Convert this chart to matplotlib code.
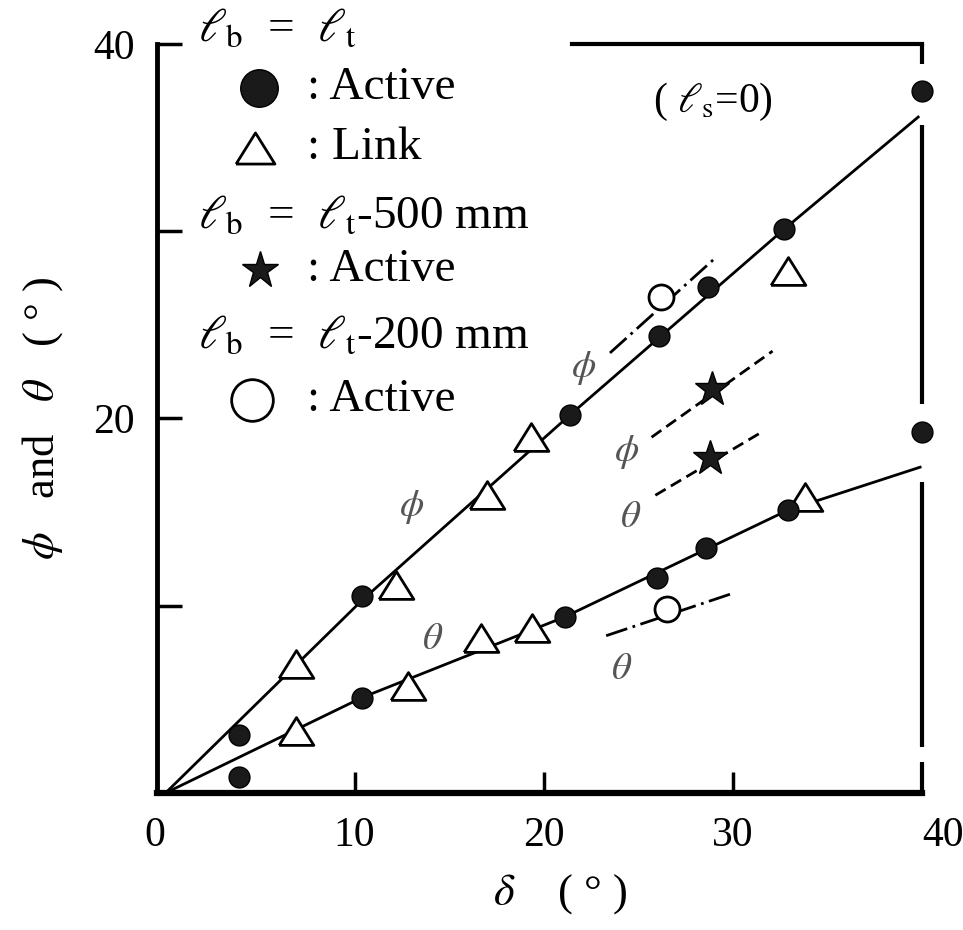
import numpy as np
import matplotlib.pyplot as plt

plt.rcParams['font.family'] = ['Liberation Serif', 'DejaVu Serif']
plt.rcParams['mathtext.fontset'] = 'stix'

# l_b = l_t, active (filled circles), upper = phi, lower = theta
act_phi_x = [3.9, 10.4, 21.4, 26.1, 28.7, 32.7, 40.0]
act_phi_y = [3.1, 10.5, 20.2, 24.4, 27.0, 30.1, 37.5]
act_th_x = [3.9, 10.4, 21.1, 26.0, 28.6, 32.9, 40.0]
act_th_y = [0.85, 5.1, 9.4, 11.5, 13.1, 15.1, 19.3]
# l_b = l_t, link (triangles)
link_phi_x = [6.9, 12.2, 17.0, 19.3, 32.9]
link_phi_y = [6.9, 11.1, 15.9, 19.0, 27.9]
link_th_x = [6.9, 12.8, 16.7, 19.4, 33.8]
link_th_y = [3.3, 5.7, 8.3, 8.8, 15.8]
# l_b = l_t - 500 mm, active (stars)
s500_x = [28.9, 28.8]
s500_y = [21.6, 17.9]
# l_b = l_t - 200 mm, active (open circles)
s200_x = [26.2, 26.5]
s200_y = [26.5, 9.8]

# drawn lines
fit_phi_x = [0, 10.4, 21.4, 32.7, 39.8]
fit_phi_y = [0, 10.3, 20.2, 30.1, 36.1]
fit_th_x = [0, 10.4, 21.1, 32.9, 39.9]
fit_th_y = [0, 5.1, 9.4, 15.1, 17.4]
l500_phi_x, l500_phi_y = [25.7, 32.1], [19.0, 23.6]
l500_th_x, l500_th_y = [25.9, 31.4], [15.9, 19.2]
l200_phi_x, l200_phi_y = [23.5, 29.1], [23.5, 28.6]
l200_th_x, l200_th_y = [23.3, 30.1], [8.4, 10.7]

# curve labels
lab_text = [r'$\phi$', r'$\theta$', r'$\phi$', r'$\phi$', r'$\theta$', r'$\theta$']
lab_x = [13.0, 14.1, 22.1, 24.4, 24.6, 24.1]
lab_y = [15.3, 8.2, 22.7, 18.2, 14.7, 6.6]

tri = [(-1, -0.8), (1, -0.8), (0, 0.8), (-1, -0.8)]

fig = plt.figure(figsize=(9.63, 9.30), dpi=100)
ax = fig.add_axes([157/963, 1-793/930, 765/963, 749/930])
ax.set_xlim(-0.45, 40)
ax.set_ylim(0, 40)

ax.plot(fit_phi_x, fit_phi_y, color='k', lw=2)
ax.plot(fit_th_x, fit_th_y, color='k', lw=2)
ax.plot(l500_phi_x, l500_phi_y, color='k', lw=2, ls=(0, (4.3, 2.2)))
ax.plot(l500_th_x, l500_th_y, color='k', lw=2, ls=(0, (4.3, 2.2)))
ax.plot(l200_phi_x, l200_phi_y, color='k', lw=2, ls=(0, (8, 2, 1, 2)))
ax.plot(l200_th_x, l200_th_y, color='k', lw=2, ls=(0, (8, 2, 1, 2)))

mk = dict(ls='none', clip_on=False, zorder=5)
ax.plot(link_phi_x, link_phi_y, marker=tri, ms=25, mfc='white', mec='k', mew=2, **mk)
ax.plot(link_th_x, link_th_y, marker=tri, ms=25, mfc='white', mec='k', mew=2, **mk)
ax.plot(act_phi_x, act_phi_y, marker='o', ms=15, mfc='#1a1a1a', mec='k', **mk)
ax.plot(act_th_x, act_th_y, marker='o', ms=15, mfc='#1a1a1a', mec='k', **mk)
ax.plot(s500_x, s500_y, marker='*', ms=26, mfc='#1a1a1a', mec='k', **mk)
ax.plot(s200_x, s200_y, marker='o', ms=18, mfc='white', mec='k', mew=2, **mk)

for t, x, y in zip(lab_text, lab_x, lab_y):
    ax.text(x, y, t, fontsize=28, color='#555555', ha='center', va='center')

# legend drawn by hand
fs = 34
tr = ax.transAxes
ax.text(0.054, 1.019, r'$\ell_{\rm b}$  =  $\ell_{\rm t}$', transform=tr, fontsize=fs, va='center')
ax.plot(0.133, 0.941, marker='o', ms=27, mfc='#1a1a1a', mec='k', transform=tr, clip_on=False)
ax.text(0.196, 0.941, ': Active', transform=tr, fontsize=fs, va='center')
ax.plot(0.128, 0.861, marker=tri, ms=28, mfc='white', mec='k', mew=2, transform=tr, clip_on=False)
ax.text(0.196, 0.861, ': Link', transform=tr, fontsize=fs, va='center')
ax.text(0.054, 0.769, r'$\ell_{\rm b}$  =  $\ell_{\rm t}$-500 mm', transform=tr, fontsize=fs, va='center')
ax.plot(0.135, 0.698, marker='*', ms=28, mfc='#1a1a1a', mec='k', transform=tr, clip_on=False)
ax.text(0.196, 0.698, ': Active', transform=tr, fontsize=fs, va='center')
ax.text(0.054, 0.609, r'$\ell_{\rm b}$  =  $\ell_{\rm t}$-200 mm', transform=tr, fontsize=fs, va='center')
ax.plot(0.124, 0.525, marker='o', ms=30, mfc='white', mec='k', mew=2, transform=tr, clip_on=False)
ax.text(0.196, 0.525, ': Active', transform=tr, fontsize=fs, va='center')

ax.text(0.727, 0.923, r'( $\ell_{\rm s}$=0)', transform=tr, fontsize=30, ha='center', va='center')

# frame
ax.spines['left'].set_linewidth(3.5)
ax.spines['bottom'].set_linewidth(4.5)
ax.spines['top'].set_linewidth(3)
ax.spines['top'].set_bounds(21.5, 40)
ax.spines['right'].set_visible(False)
for y0, y1 in [(40, 38.95), (35.7, 20.8), (16.6, 2.45), (1.65, 0)]:
    ax.plot([40, 40], [y0, y1], color='k', lw=3, clip_on=False, solid_capstyle='butt')

ax.set_xticks([0, 10, 20, 30, 40])
ax.set_xticklabels(['0', '10', '20', '30', '40'])
ax.set_yticks([10, 20, 30, 40])
ax.set_yticklabels(['', '20', '', '40'])
ax.tick_params(axis='x', direction='in', length=15, width=2.5, pad=17, labelsize=30)
ax.tick_params(axis='y', direction='in', length=18, width=2.5, pad=16, labelsize=30)
xt = ax.xaxis.get_major_ticks()
xt[0].tick1line.set_visible(False)
xt[-1].tick1line.set_visible(False)
xl = ax.get_xticklabels()
xl[0].set_ha('right')
xl[-1].set_ha('left')

ax.set_xlabel(r'$\delta$    ( ° )', fontsize=32)
ax.xaxis.set_label_coords(0.527, -0.105)
ax.set_ylabel(r'$\phi$   and   $\theta$   ( ° )', fontsize=32)
ax.yaxis.set_label_coords(-0.12, 0.5)

fig.savefig('out.png', dpi=100)
